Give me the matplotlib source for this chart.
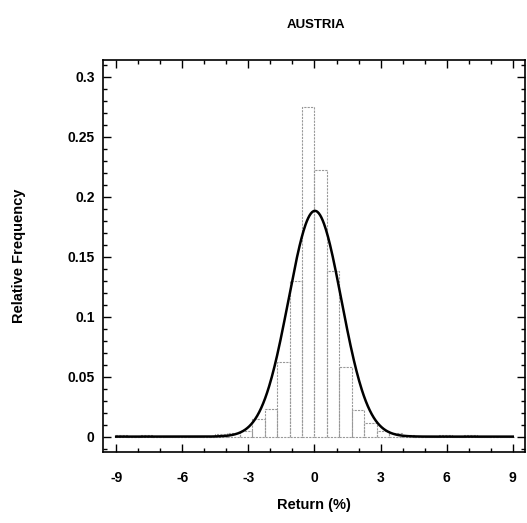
import numpy as np
import matplotlib
matplotlib.use("Agg")
import matplotlib.pyplot as plt
from matplotlib.ticker import MultipleLocator

# histogram of daily returns, bin width
bin_width = 0.566
bin_index = np.arange(-16, 16)          # left edge = index * bin_width
rel_freq = [0.001, 0.0, 0.001, 0.0, 0.0, 0.0, 0.0, 0.0,
            0.002, 0.003, 0.005, 0.015, 0.023, 0.062, 0.130, 0.275,
            0.222, 0.138, 0.058, 0.022, 0.011, 0.005, 0.003, 0.0015,
            0.0, 0.0, 0.001, 0.0, 0.001, 0.0, 0.0, 0.0]

# fitted normal curve
fit_mean = 0.02
fit_std = 1.2

x_ticks = [-9, -6, -3, 0, 3, 6, 9]
y_ticks = [0, 0.05, 0.1, 0.15, 0.2, 0.25, 0.3]
y_tick_labels = ["0", "0.05", "0.1", "0.15", "0.2", "0.25", "0.3"]

plt.rcParams['font.family'] = ['Liberation Sans', 'DejaVu Sans']
plt.rcParams['font.weight'] = 'bold'

fig = plt.figure(figsize=(5.27, 5.23), dpi=100)
ax = fig.add_axes([0.1954, 0.1358, 0.8006, 0.7495])

left_edges = bin_index * bin_width
ax.bar(left_edges, rel_freq, width=bin_width, align='edge',
       fill=False, edgecolor='0.6', linewidth=0.8, linestyle=(0, (2, 1)))

xs = np.linspace(-9, 9, 600)
pdf = bin_width / (fit_std * np.sqrt(2 * np.pi)) * np.exp(-0.5 * ((xs - fit_mean) / fit_std) ** 2)
ax.plot(xs, pdf, color='black', lw=1.8)

ax.set_xlim(-9.6, 9.55)
ax.set_ylim(-0.0128, 0.3139)
ax.set_xticks(x_ticks)
ax.set_xticklabels([str(t) for t in x_ticks])
ax.set_yticks(y_ticks)
ax.set_yticklabels(y_tick_labels)
ax.xaxis.set_minor_locator(MultipleLocator(1))
ax.yaxis.set_minor_locator(MultipleLocator(0.01))

ax.tick_params(which='both', direction='in', top=True, right=True,
               labeltop=False, labelright=False, width=1.0)
ax.tick_params(which='major', length=6, labelsize=10)
ax.tick_params(which='minor', length=3)
ax.tick_params(axis='x', which='major', pad=14)
ax.tick_params(axis='y', which='major', pad=6)
for s in ax.spines.values():
    s.set_linewidth(1.2)

ax.set_xlabel("Return (%)", fontsize=10.5, fontweight='bold', labelpad=9)
ax.set_ylabel("Relative Frequency", fontsize=10.5, fontweight='bold', labelpad=30)
fig.text(0.600, 0.952, "AUSTRIA", ha='center', va='center', fontsize=9.5, fontweight='bold')

fig.savefig("out.png", dpi=100)
